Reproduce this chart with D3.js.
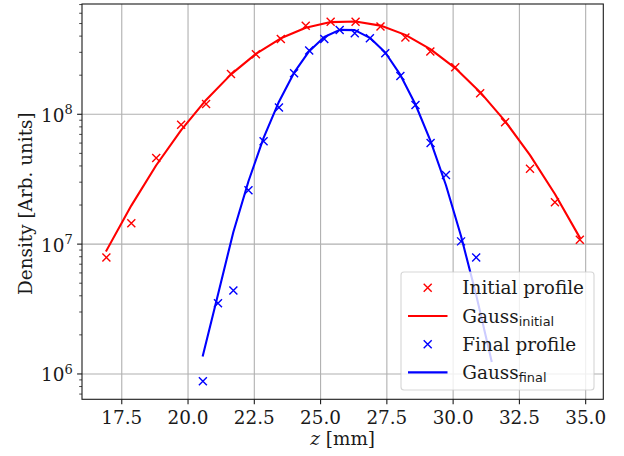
<!DOCTYPE html>
<html>
<head>
<meta charset="utf-8">
<script src="https://cdn.jsdelivr.net/npm/d3@7"></script>
<style>
  body { margin: 0; background: #fff; }
  svg { display: block; }
</style>
</head>
<body>
<script>
// Measured density profiles along z (mm) and their Gaussian fits.
const initialZ = [16.92, 17.86, 18.80, 19.74, 20.68, 21.62, 22.56, 23.50, 24.44, 25.38,
                  26.32, 27.26, 28.20, 29.14, 30.08, 31.02, 31.96, 32.90, 33.84, 34.78];
const initialDensity = [7.9e6, 1.45e7, 4.6e7, 8.3e7, 1.2e8, 2.04e8, 2.9e8, 3.8e8, 4.8e8, 5.15e8,
                        5.15e8, 4.75e8, 3.9e8, 3.05e8, 2.3e8, 1.45e8, 8.7e7, 3.8e7, 2.1e7, 1.08e7];
const initialFit = [8.9e6, 1.98e7, 4.05e7, 7.55e7, 1.29e8, 2.03e8, 2.92e8, 3.85e8, 4.64e8, 5.13e8,
                    5.19e8, 4.82e8, 4.09e8, 3.18e8, 2.27e8, 1.48e8, 8.85e7, 4.85e7, 2.43e7, 1.12e7];

const finalZ = [20.56, 21.13, 21.71, 22.28, 22.85, 23.43, 24.00, 24.57, 25.14, 25.72,
                26.29, 26.86, 27.44, 28.01, 28.58, 29.15, 29.73, 30.30, 30.87];
const finalDensity = [8.8e5, 3.5e6, 4.4e6, 2.6e7, 6.2e7, 1.13e8, 2.07e8, 3.1e8, 3.8e8, 4.45e8,
                      4.2e8, 3.85e8, 2.95e8, 1.97e8, 1.18e8, 6.0e7, 3.4e7, 1.05e7, 7.9e6];
const finalFitZ = [20.56, 21.13, 21.71, 22.28, 22.85, 23.43, 24.00, 24.57, 25.14, 25.72,
                   26.29, 26.86, 27.44, 28.01, 28.58, 29.15, 29.73, 30.30, 30.87, 31.45];
const finalFit = [1.39e6, 4.1e6, 1.24e7, 3.05e7, 6.59e7, 1.25e8, 2.09e8, 3.06e8, 3.94e8, 4.47e8,
                  4.45e8, 3.88e8, 2.99e8, 2.01e8, 1.19e8, 6.22e7, 2.84e7, 1.15e7, 4.05e6, 1.26e6];

const xTicks = [17.5, 20.0, 22.5, 25.0, 27.5, 30.0, 32.5, 35.0];
const yTicks = [1e6, 1e7, 1e8];
const xLabel = "z";
const xUnit = " [mm]";
const yLabel = "Density [Arb. units]";

const width = 624, height = 456;
const plot = { left: 82, right: 603.3, top: 4, bottom: 399.3 };
const SERIF = "'DejaVu Serif', serif";
const SANS = "'DejaVu Sans', sans-serif";
const INK = "#1a1a1a";
const FS = 18.4;

const svg = d3.select("body").append("svg")
  .attr("width", width).attr("height", height)
  .style("background", "#fff");

const x = d3.scaleLinear().domain([16.0, 35.665]).range([plot.left, plot.right]);
const y = d3.scaleLog().domain([6.38e5, 7.07e8]).range([plot.bottom, plot.top]);

// grid
const grid = svg.append("g").attr("stroke", "#b0b0b0").attr("stroke-width", 1.1);
xTicks.forEach(t => grid.append("line")
  .attr("x1", x(t)).attr("x2", x(t)).attr("y1", plot.top).attr("y2", plot.bottom));
yTicks.forEach(t => grid.append("line")
  .attr("x1", plot.left).attr("x2", plot.right).attr("y1", y(t)).attr("y2", y(t)));

// clip region for data
svg.append("clipPath").attr("id", "plotArea").append("rect")
  .attr("x", plot.left).attr("y", plot.top)
  .attr("width", plot.right - plot.left).attr("height", plot.bottom - plot.top);

const data = svg.append("g").attr("clip-path", "url(#plotArea)");
const line = d3.line().x(d => x(d[0])).y(d => y(d[1]));

function crosses(g, zs, vs, color) {
  const s = 4;
  zs.forEach((z, i) => {
    const cx = x(z), cy = y(vs[i]);
    g.append("path")
      .attr("d", `M${cx - s},${cy - s}L${cx + s},${cy + s}M${cx - s},${cy + s}L${cx + s},${cy - s}`)
      .attr("stroke", color).attr("stroke-width", 1.4).attr("fill", "none");
  });
}

crosses(data, initialZ, initialDensity, "#ff0000");
data.append("path").datum(initialZ.map((z, i) => [z, initialFit[i]]))
  .attr("d", line).attr("fill", "none").attr("stroke", "#ff0000").attr("stroke-width", 2.1)
  .attr("stroke-linejoin", "round").attr("stroke-linecap", "square");
crosses(data, finalZ, finalDensity, "#0000ff");
data.append("path").datum(finalFitZ.map((z, i) => [z, finalFit[i]]))
  .attr("d", line).attr("fill", "none").attr("stroke", "#0000ff").attr("stroke-width", 2.1)
  .attr("stroke-linejoin", "round").attr("stroke-linecap", "square");

// frame
svg.append("rect").attr("x", plot.left).attr("y", plot.top)
  .attr("width", plot.right - plot.left).attr("height", plot.bottom - plot.top)
  .attr("fill", "none").attr("stroke", INK).attr("stroke-width", 1.1);

// x axis ticks and labels
const xAxis = svg.append("g");
xTicks.forEach(t => {
  xAxis.append("line").attr("x1", x(t)).attr("x2", x(t))
    .attr("y1", plot.bottom).attr("y2", plot.bottom + 4.9)
    .attr("stroke", INK).attr("stroke-width", 1.1);
  xAxis.append("text").attr("x", x(t)).attr("y", 424)
    .attr("text-anchor", "middle").attr("font-family", SERIF).attr("font-size", FS)
    .attr("fill", INK).text(d3.format(".1f")(t));
});

// y axis ticks (major + minor) and labels
const yAxis = svg.append("g");
const [lo, hi] = y.domain();
for (let e = 5; e <= 8; e++) {
  for (let m = 2; m <= 9; m++) {
    const v = m * Math.pow(10, e);
    if (v < lo || v > hi) continue;
    yAxis.append("line").attr("x1", plot.left - 2.8).attr("x2", plot.left)
      .attr("y1", y(v)).attr("y2", y(v)).attr("stroke", INK).attr("stroke-width", 0.8);
  }
}
yTicks.forEach(t => {
  yAxis.append("line").attr("x1", plot.left - 4.9).attr("x2", plot.left)
    .attr("y1", y(t)).attr("y2", y(t)).attr("stroke", INK).attr("stroke-width", 1.1);
  const txt = yAxis.append("text").attr("x", 72.7).attr("y", y(t) + 7.5)
    .attr("text-anchor", "end").attr("font-family", SERIF).attr("fill", INK);
  txt.append("tspan").attr("font-size", FS).text("10");
  txt.append("tspan").attr("font-size", 13).attr("dy", -7.5).text(String(Math.round(Math.log10(t))));
});

// axis titles
const xt = svg.append("text").attr("x", (plot.left + plot.right) / 2).attr("y", 445)
  .attr("text-anchor", "middle").attr("font-family", SERIF).attr("font-size", FS).attr("fill", INK);
xt.append("tspan").attr("font-style", "italic").text(xLabel);
xt.append("tspan").text(xUnit);

svg.append("text")
  .attr("transform", `translate(32,${(plot.top + plot.bottom) / 2 + 2}) rotate(-90)`)
  .attr("text-anchor", "middle").attr("font-family", SERIF).attr("font-size", FS)
  .attr("fill", INK).text(yLabel);

// legend
const legendEntries = [
  { kind: "marker", color: "#ff0000", label: "Initial profile" },
  { kind: "line", color: "#ff0000", label: "Gauss", sub: "initial" },
  { kind: "marker", color: "#0000ff", label: "Final profile" },
  { kind: "line", color: "#0000ff", label: "Gauss", sub: "final" }
];
const lg = svg.append("g");
lg.append("rect").attr("x", 401).attr("y", 272).attr("width", 193).attr("height", 118)
  .attr("rx", 3).attr("fill", "#fff").attr("fill-opacity", 0.8)
  .attr("stroke", "#cccccc").attr("stroke-opacity", 0.8).attr("stroke-width", 1.1);
const rowY = [287.7, 316, 344.2, 372.4];
legendEntries.forEach((d, i) => {
  const cy = rowY[i];
  if (d.kind === "marker") {
    const s = 4, cx = 427.7;
    lg.append("path")
      .attr("d", `M${cx - s},${cy - s}L${cx + s},${cy + s}M${cx - s},${cy + s}L${cx + s},${cy - s}`)
      .attr("stroke", d.color).attr("stroke-width", 1.4).attr("fill", "none");
  } else {
    lg.append("line").attr("x1", 408).attr("x2", 447.5).attr("y1", cy).attr("y2", cy)
      .attr("stroke", d.color).attr("stroke-width", 2.1);
  }
  const t = lg.append("text").attr("x", 462.3).attr("y", cy + 6.5)
    .attr("font-family", SERIF).attr("font-size", FS).attr("fill", INK);
  t.append("tspan").text(d.label);
  if (d.sub) {
    t.append("tspan").attr("font-family", SANS).attr("font-size", 12.9).attr("dy", 3.4).text(d.sub);
  }
});
</script>
</body>
</html>
